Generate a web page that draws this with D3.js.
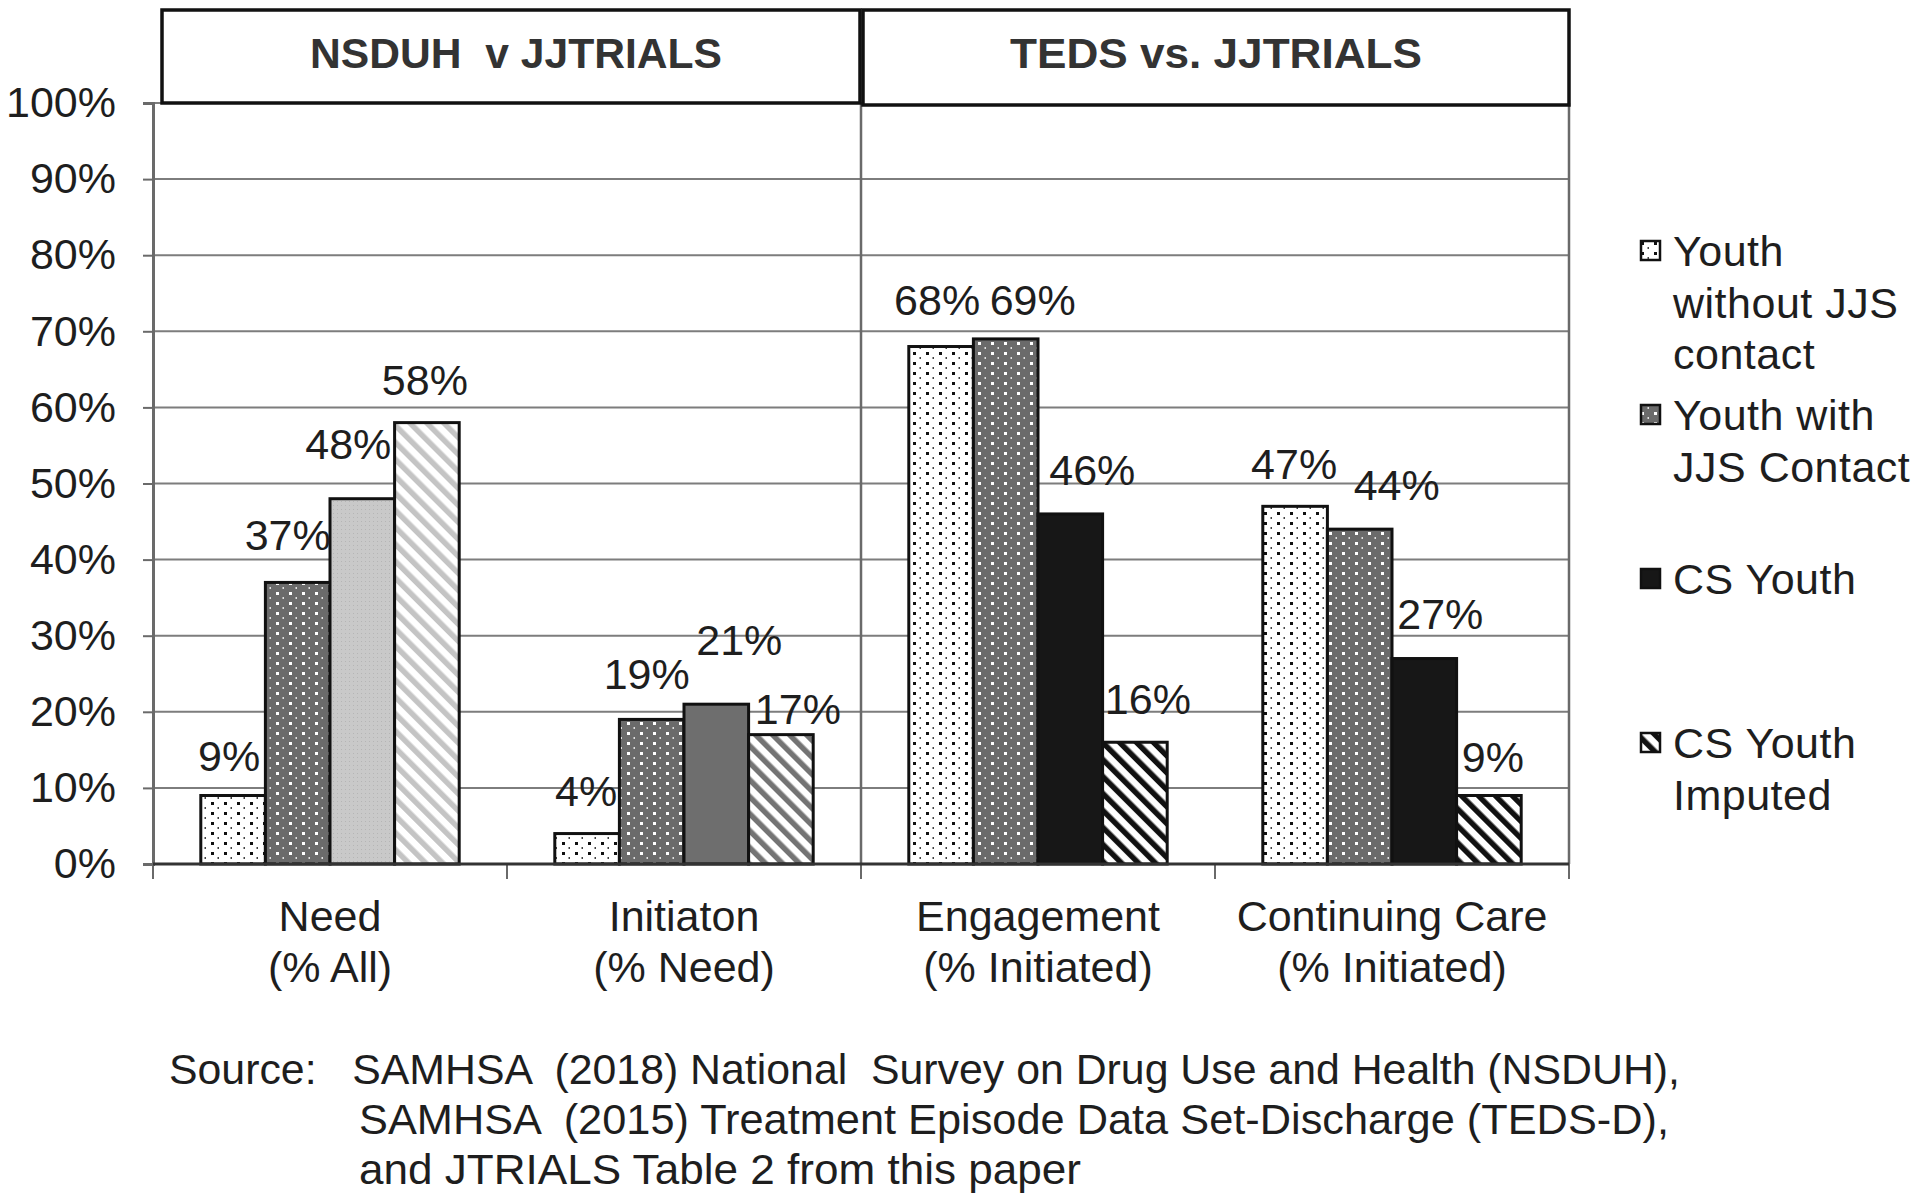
<!DOCTYPE html>
<html><head><meta charset="utf-8">
<script src="https://cdn.jsdelivr.net/npm/d3@7"></script>
<style>body{margin:0;background:#fff} svg{display:block} text{white-space:pre}</style>
</head><body>
<script>
// ---- data ----
const categoryLine1 = ["Need", "Initiaton", "Engagement", "Continuing Care"];
const categoryLine2 = ["(% All)", "(% Need)", "(% Initiated)", "(% Initiated)"];
const seriesNames = ["Youth without JJS contact", "Youth with JJS Contact", "CS Youth", "CS Youth Imputed"];
const youthWithoutJJS = [9, 4, 68, 47];
const youthWithJJS = [37, 19, 69, 44];
const csYouth = [48, 21, 46, 27];
const csYouthImputed = [58, 17, 16, 9];
const yTickValues = [0, 10, 20, 30, 40, 50, 60, 70, 80, 90, 100];
const panelHeaders = ["NSDUH  v JJTRIALS", "TEDS vs. JJTRIALS"];
const panelSpans = [[0, 1], [2, 3]];
const legendLines = [["Youth", "without JJS", "contact"], ["Youth with", "JJS Contact"], ["CS Youth"], ["CS Youth", "Imputed"]];
const sourceLines = [
  "Source:   SAMHSA  (2018) National  Survey on Drug Use and Health (NSDUH),",
  "SAMHSA  (2015) Treatment Episode Data Set-Discharge (TEDS-D),",
  "and JTRIALS Table 2 from this paper"
];
const seriesValues = [youthWithoutJJS, youthWithJJS, csYouth, csYouthImputed];

// label nudges (layout only): [dx, distance above bar top] per category x series
const labelNudge = [
  [[-4, 40], [-10, 47], [-14, 55], [-2, 43]],
  [[-1, 43], [-5, 45], [23, 64], [17, 26]],
  [[-4, 47], [27, 39], [22, 44], [13, 43]],
  [[-1, 42], [37, 44], [16, 45], [4, 39]]
];

// ---- layout ----
const W = 1920, H = 1197;
const plotLeft = 153, plotRight = 1569, plotTop = 103, plotBottom = 864;
const FONT = "'Liberation Sans', Arial, sans-serif";

const svg = d3.select("body").append("svg").attr("width", W).attr("height", H);
svg.append("rect").attr("width", W).attr("height", H).attr("fill", "#fff");

const defs = svg.append("defs");
function dots(id, bg, fg) {
  const p = defs.append("pattern").attr("id", id).attr("patternUnits", "userSpaceOnUse")
    .attr("width", 13).attr("height", 10);
  p.append("rect").attr("width", 13).attr("height", 10).attr("fill", bg);
  p.append("rect").attr("x", 3).attr("y", 2).attr("width", 3).attr("height", 3).attr("fill", fg);
  p.append("rect").attr("x", 9.5).attr("y", 7).attr("width", 1.5).attr("height", 2).attr("fill", fg).attr("opacity", 0.8);
}
dots("dotsWhite", "#ffffff", "#111111");
dots("dotsGray", "#6b6b6b", "#ffffff");
function fine(id, bg, fg) {
  const p = defs.append("pattern").attr("id", id).attr("patternUnits", "userSpaceOnUse")
    .attr("width", 4).attr("height", 4);
  p.append("rect").attr("width", 4).attr("height", 4).attr("fill", bg);
  p.append("rect").attr("x", 1).attr("y", 1).attr("width", 1).attr("height", 1).attr("fill", fg);
}
fine("lightFine", "#c9c9c9", "#b5b5b5");
function hatch(id, fg) {
  const p = defs.append("pattern").attr("id", id).attr("patternUnits", "userSpaceOnUse")
    .attr("width", 12).attr("height", 12).attr("patternTransform", "rotate(-45)");
  p.append("rect").attr("width", 12).attr("height", 12).attr("fill", "#fff");
  p.append("rect").attr("x", 0).attr("y", 0).attr("width", 5.5).attr("height", 12).attr("fill", fg);
}
hatch("hatchLight", "#c4c4c4");
hatch("hatchMid", "#747474");
hatch("hatchDark", "#111111");

function fillFor(s, c) {
  if (s === 0) return "url(#dotsWhite)";
  if (s === 1) return "url(#dotsGray)";
  if (s === 2) return c === 0 ? "url(#lightFine)" : (c === 1 ? "#6e6e6e" : "#171717");
  return c === 0 ? "url(#hatchLight)" : (c === 1 ? "url(#hatchMid)" : "url(#hatchDark)");
}

const x0 = d3.scaleBand().domain(d3.range(categoryLine1.length)).range([plotLeft, plotRight]).paddingInner(0).paddingOuter(0);
const x1 = d3.scaleBand().domain(d3.range(seriesNames.length)).range([0, x0.bandwidth()]).paddingInner(0).paddingOuter(0.74);
const y = d3.scaleLinear().domain([0, 100]).range([plotBottom, plotTop]);

// gridlines
svg.append("g").selectAll("line").data(yTickValues.filter(v => v > 0)).join("line")
  .attr("x1", plotLeft).attr("x2", plotRight).attr("y1", d => y(d)).attr("y2", d => y(d))
  .attr("stroke", "#7d7d7d").attr("stroke-width", 2);

// y axis
const yAxis = d3.axisLeft(y).tickValues(yTickValues).tickFormat(d => d + "%").tickSize(10).tickPadding(27);
const ya = svg.append("g").attr("transform", `translate(${plotLeft},0)`).call(yAxis);
ya.select(".domain").attr("stroke", "#6a6a6a").attr("stroke-width", 3);
ya.selectAll(".tick line").attr("stroke", "#6a6a6a").attr("stroke-width", 2);
ya.selectAll(".tick text").attr("font-family", FONT).attr("font-size", 43).attr("fill", "#1e1e1e");

// vertical dividers / right edge
const boundaries = d3.range(categoryLine1.length + 1).map(i => i < categoryLine1.length ? x0(i) : x0(i - 1) + x0.bandwidth());
svg.append("g").selectAll("line").data([boundaries[2], boundaries[4]]).join("line")
  .attr("x1", d => d).attr("x2", d => d).attr("y1", plotTop).attr("y2", plotBottom)
  .attr("stroke", "#6a6a6a").attr("stroke-width", 2.5);
// x ticks at category boundaries
svg.append("g").selectAll("line").data(boundaries).join("line")
  .attr("x1", d => d).attr("x2", d => d).attr("y1", plotBottom).attr("y2", plotBottom + 15)
  .attr("stroke", "#6a6a6a").attr("stroke-width", 2);

// bars
const flat = [];
seriesValues.forEach((vals, s) => vals.forEach((v, c) => flat.push({ s, c, v })));
svg.append("g").selectAll("rect").data(flat).join("rect")
  .attr("x", d => x0(d.c) + x1(d.s)).attr("width", x1.bandwidth())
  .attr("y", d => y(d.v)).attr("height", d => y(0) - y(d.v))
  .attr("fill", d => fillFor(d.s, d.c)).attr("stroke", "#111").attr("stroke-width", 3);

// baseline axis
svg.append("line").attr("x1", plotLeft).attr("x2", plotRight).attr("y1", plotBottom).attr("y2", plotBottom)
  .attr("stroke", "#333").attr("stroke-width", 3);

// value labels
svg.append("g").selectAll("text").data(flat).join("text")
  .attr("x", d => x0(d.c) + x1(d.s) + x1.bandwidth() / 2 + labelNudge[d.c][d.s][0])
  .attr("y", d => y(d.v) - labelNudge[d.c][d.s][1])
  .attr("text-anchor", "middle").attr("dominant-baseline", "central")
  .attr("font-family", FONT).attr("font-size", 43).attr("fill", "#1e1e1e")
  .text(d => d.v + "%");

// category labels
const cl = svg.append("g").selectAll("text").data(categoryLine1).join("text")
  .attr("text-anchor", "middle").attr("font-family", FONT).attr("font-size", 43).attr("fill", "#1e1e1e");
cl.append("tspan").attr("x", (d, i) => x0(i) + x0.bandwidth() / 2).attr("y", 931).text(d => d);
cl.append("tspan").attr("x", (d, i) => x0(i) + x0.bandwidth() / 2).attr("y", 982).text((d, i) => categoryLine2[i]);

// panel header boxes
const hb = svg.append("g");
panelHeaders.forEach((h, i) => {
  const xa = x0(panelSpans[i][0]) + (i === 0 ? 9 : 2);
  const xb = x0(panelSpans[i][1]) + x0.bandwidth() - (i === 0 ? 1 : 0);
  const yb = i === 0 ? plotTop : plotTop + 2;
  hb.append("rect").attr("x", xa).attr("y", 10).attr("width", xb - xa).attr("height", yb - 10)
    .attr("fill", "#fff").attr("stroke", "#111").attr("stroke-width", 3.5);
  hb.append("text").attr("x", (xa + xb) / 2 + (i === 0 ? 5 : 0)).attr("y", 53)
    .attr("text-anchor", "middle").attr("dominant-baseline", "central")
    .attr("font-family", FONT).attr("font-weight", "bold").attr("font-size", 42).attr("fill", "#333")
    .attr("textLength", 412).attr("lengthAdjust", "spacingAndGlyphs").text(h);
});

// legend
const lg = svg.append("g");
legendLines.forEach((lines, i) => {
  const yy = 251 + i * 164;
  lg.append("rect").attr("x", 1641).attr("y", yy - 10).attr("width", 19).attr("height", 19)
    .attr("fill", fillFor(i, 3)).attr("stroke", "#111").attr("stroke-width", 2.5);
  lines.forEach((t, j) => {
    lg.append("text").attr("x", 1673).attr("y", yy + j * 51.5).attr("dominant-baseline", "central")
      .attr("font-family", FONT).attr("font-size", 43).attr("fill", "#1e1e1e").attr("letter-spacing", 0.5).text(t);
  });
});

// source text
const srcX = [169, 359, 359];
const srcEnd = [1680, 1669, 1081];
sourceLines.forEach((t, i) => {
  svg.append("text").attr("x", srcX[i]).attr("y", 1069 + i * 50).attr("dominant-baseline", "central")
    .attr("font-family", FONT).attr("font-size", 42).attr("fill", "#1e1e1e")
    .attr("textLength", srcEnd[i] - srcX[i]).attr("lengthAdjust", "spacingAndGlyphs").text(t);
});
</script>
</body></html>
